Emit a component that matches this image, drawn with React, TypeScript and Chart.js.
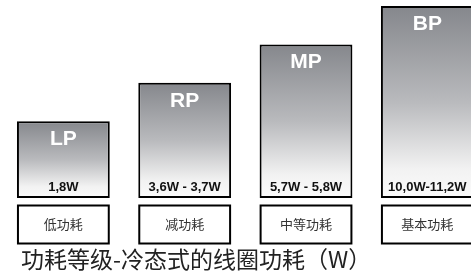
import React, { useEffect, useRef } from "react";
import { Chart, registerables } from "chart.js";

Chart.register(...registerables);

const classLabels = ["低功耗", "减功耗", "中等功耗", "基本功耗"];
const codeLabels = ["LP", "RP", "MP", "BP"];
const powerRanges = ["1,8W", "3,6W - 3,7W", "5,7W - 5,8W", "10,0W-11,2W"];
const barLevels = [2, 3, 4, 5];
const chartTitle = "功耗等级-冷态式的线圈功耗（W）";

const LATIN = '"Liberation Sans", Arial, Helvetica, sans-serif';
const CJK = '"Noto Sans CJK SC", "Noto Sans", sans-serif';

const overlayPlugin = {
  id: "overlay",
  afterDatasetsDraw(chart: any) {
    const ctx = chart.ctx;
    const meta = chart.getDatasetMeta(0);
    const area = chart.chartArea;
    ctx.save();
    meta.data.forEach((bar: any, i: number) => {
      const left = bar.x - bar.width / 2;
      const top = Math.min(bar.y, bar.base);
      const bottom = Math.max(bar.y, bar.base);
      ctx.fillStyle = "#ffffff";
      ctx.font = `bold 21px ${LATIN}`;
      ctx.textAlign = "center";
      ctx.textBaseline = "alphabetic";
      ctx.fillText(codeLabels[i], bar.x, top + 24);
      ctx.fillStyle = "#111111";
      ctx.font = `bold 13px ${LATIN}`;
      ctx.fillText(powerRanges[i], bar.x, bottom - 7.5);
      ctx.strokeStyle = "#000000";
      ctx.lineWidth = 2;
      ctx.strokeRect(left + 1, area.bottom + 7.5, bar.width - 2, 38);
    });
    const first = meta.data[0];
    ctx.fillStyle = "#222222";
    ctx.font = `23px ${CJK}`;
    ctx.textAlign = "left";
    ctx.textBaseline = "middle";
    ctx.fillText(chartTitle, first.x - first.width / 2 + 4, 259);
    ctx.restore();
  },
};

export default function App() {
  const ref = useRef<HTMLCanvasElement | null>(null);
  useEffect(() => {
    if (!ref.current) return;
    const chart = new Chart(ref.current, {
      type: "bar",
      data: {
        labels: classLabels,
        datasets: [
          {
            data: barLevels,
            borderColor: "#000000",
            borderWidth: 2,
            borderSkipped: false,
            categoryPercentage: 1,
            barPercentage: 0.765,
            backgroundColor: (c: any) => {
              const chart = c.chart;
              if (!chart.chartArea || c.type !== "data") return "#aaaaaa";
              const ys = chart.scales.y;
              const top = ys.getPixelForValue(c.raw);
              const bottom = ys.getPixelForValue(0);
              const g = chart.ctx.createLinearGradient(0, top, 0, bottom);
              g.addColorStop(0, "#85878c");
              g.addColorStop(0.5, "#b9babd");
              g.addColorStop(0.85, "#f2f2f2");
              g.addColorStop(1, "#fbfbfb");
              return g;
            },
          },
        ],
      },
      options: {
        responsive: false,
        animation: false,
        events: [],
        layout: { padding: { left: 2.7, right: 12.0, top: 6, bottom: 21.4 } },
        plugins: {
          legend: { display: false },
          title: { display: false },
          tooltip: { enabled: false },
        },
        scales: {
          x: {
            grid: { display: false, drawTicks: false },
            border: { display: false },
            ticks: {
              padding: 18,
              color: "#333333",
              font: { family: CJK, size: 13 },
              maxRotation: 0,
              autoSkip: false,
            },
          },
          y: {
            display: false,
            min: 0,
            max: 5,
          },
        },
      },
      plugins: [overlayPlugin],
    });
    return () => chart.destroy();
  }, []);

  return (
    <div
      style={{
        position: "fixed",
        left: 0,
        top: 0,
        width: 471,
        height: 271,
        overflow: "hidden",
        background: "#ffffff",
      }}
    >
      <canvas ref={ref} width={500} height={271} style={{ display: "block" }} />
    </div>
  );
}
